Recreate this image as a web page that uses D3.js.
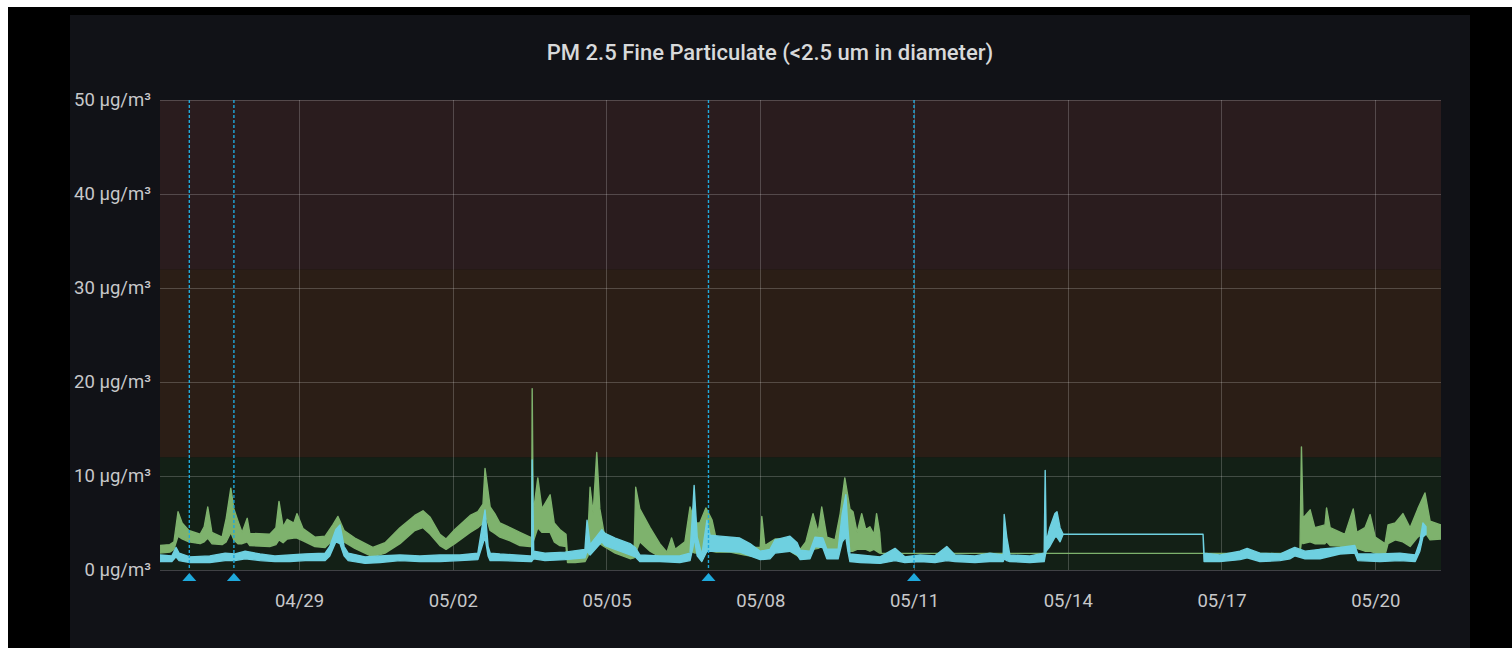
<!DOCTYPE html>
<html><head><meta charset="utf-8">
<script src="https://cdn.jsdelivr.net/npm/d3@7"></script>
<style>
html,body{margin:0;padding:0;background:#ffffff;width:1512px;height:648px;overflow:hidden}
svg{display:block}
</style></head><body>
<svg id="c" width="1512" height="648"></svg>
<script>
// ---------- data ----------
const chartTitle = "PM 2.5 Fine Particulate (<2.5 um in diameter)";
const startUTC = Date.UTC(2021, 3, 26);            // day 0 = 04/26 00:00
const domainDays = [0.288, 25.283];                 // visible time range (days from start)
const yDomain = [0, 50];
const yTickValues = [0, 10, 20, 30, 40, 50];
const yUnit = " µg/m³";
const xTickDays = [3, 6, 9, 12, 15, 18, 21, 24];    // 04/29 ... 05/20
const thresholdBreaks = [0, 12, 32, 50];            // good / moderate / unhealthy
const annotationDays = [0.86, 1.73, 10.99, 15.0];

// [day, low, high] – min/max envelope of the noisy readings
const seriesGreen = [
 [0.29,1.8,2.6],[0.48,1.9,2.7],[0.56,2.2,3.0],[0.64,3.6,6.2],[0.72,3.3,5.0],[0.85,3.0,4.2],
 [1.07,2.8,3.8],[1.15,3.0,4.6],[1.22,3.4,6.7],[1.30,2.8,4.0],[1.50,2.7,3.5],[1.58,3.0,5.5],
 [1.67,4.0,8.7],[1.73,3.2,6.5],[1.81,2.8,5.2],[1.89,2.8,4.0],[1.99,3.0,5.5],[2.04,2.6,3.9],
 [2.43,2.5,3.8],[2.55,2.7,4.5],[2.61,3.2,7.3],[2.69,2.9,4.6],[2.77,3.3,5.4],[2.90,3.4,5.0],
 [2.96,3.4,6.0],[3.08,3.1,4.4],[3.31,2.5,3.5],[3.51,2.4,3.6],[3.66,3.2,4.8],[3.76,4.5,5.7],
 [3.88,3.0,4.2],[4.09,2.3,3.4],[4.44,1.4,2.4],[4.68,1.8,2.9],[4.97,2.8,4.5],[5.26,4.2,5.8],
 [5.42,4.5,6.3],[5.56,3.8,5.6],[5.75,2.6,3.8],[5.87,2.2,3.3],[6.04,2.8,4.3],[6.34,4.0,5.8],
 [6.49,4.5,6.2],[6.59,5.0,7.0],[6.63,6.0,10.8],[6.73,4.2,6.7],[6.82,3.9,6.0],[6.92,3.5,5.0],
 [7.12,3.1,4.5],[7.31,2.6,4.0],[7.51,2.5,3.5],[7.54,2.5,3.5],[7.55,2.5,19.3],[7.57,3.0,6.0],
 [7.66,4.5,9.8],[7.74,4.0,6.5],[7.90,4.0,8.0],[7.98,3.0,5.0],[8.09,2.6,4.3],[8.21,2.5,3.8],
 [8.24,0.8,1.5],[8.39,0.8,1.6],[8.58,0.9,1.8],[8.64,1.5,4.0],[8.68,2.5,8.8],[8.74,2.5,6.0],
 [8.81,3.0,12.5],[8.87,2.8,6.5],[8.95,2.5,4.0],[9.17,1.8,3.0],[9.46,1.2,2.0],[9.54,1.3,2.0],
 [9.57,1.8,8.8],[9.65,3.0,6.5],[9.85,2.0,4.5],[10.04,1.4,2.8],[10.18,1.2,1.9],[10.27,1.3,3.4],
 [10.34,1.3,2.2],[10.53,1.5,3.0],[10.63,2.0,6.7],[10.73,1.8,5.0],[10.82,2.0,5.0],[10.94,2.2,6.6],
 [11.06,2.0,5.3],[11.14,1.9,3.3],[11.41,1.9,3.1],[11.70,1.6,2.8],[11.90,1.4,2.4],[12.00,1.3,2.4],
 [12.03,1.5,5.7],[12.09,1.5,2.6],[12.29,2.0,3.3],[12.58,2.0,3.3],[12.78,1.3,2.2],[12.89,1.8,3.0],
 [13.03,2.2,6.0],[13.13,2.3,4.0],[13.20,2.5,6.7],[13.30,2.0,3.5],[13.46,1.8,3.2],[13.56,2.5,6.0],
 [13.65,4.0,9.8],[13.75,2.0,6.5],[13.81,2.0,6.2],[13.89,2.2,4.0],[13.98,2.2,6.0],[14.06,2.2,4.3],
 [14.14,2.0,4.6],[14.22,2.2,3.8],[14.27,2.0,6.0],[14.33,1.8,4.0],[14.36,1.77,1.77],
 [22.53,1.77,1.77],[22.56,3.0,13.1],[22.59,2.8,5.5],[22.73,3.0,6.4],[22.82,2.8,4.5],
 [23.02,2.8,4.8],[23.05,3.0,6.6],[23.12,2.6,4.5],[23.41,2.5,3.8],[23.57,2.5,6.5],[23.64,2.3,4.0],
 [23.80,2.0,4.5],[23.90,2.0,5.9],[24.00,1.8,3.5],[24.19,1.6,2.8],[24.25,2.8,4.8],[24.39,3.2,5.0],
 [24.54,3.0,6.0],[24.68,2.5,4.5],[24.83,3.5,6.5],[24.97,4.0,8.2],[25.07,3.2,5.2],[25.28,3.3,4.8]
];
const seriesCyan = [
 [0.29,0.9,1.6],[0.52,0.9,1.5],[0.60,1.4,2.4],[0.66,1.0,1.8],[0.87,0.8,1.4],[1.26,0.8,1.5],
 [1.56,1.0,1.8],[1.75,1.0,1.7],[1.95,1.2,2.0],[2.24,1.0,1.7],[2.53,0.9,1.5],[2.82,0.9,1.6],
 [3.12,1.0,1.7],[3.51,1.0,1.8],[3.60,1.5,2.5],[3.72,3.0,4.3],[3.80,2.8,4.8],[3.88,1.5,2.5],
 [3.96,1.0,1.8],[4.29,0.7,1.4],[4.58,0.8,1.5],[4.97,1.0,1.6],[5.36,0.9,1.5],[5.75,0.9,1.6],
 [6.14,1.0,1.6],[6.49,1.1,1.8],[6.57,2.5,4.5],[6.63,3.5,6.4],[6.69,1.5,2.5],[6.73,1.0,1.8],
 [6.92,1.0,1.7],[7.51,0.9,1.5],[7.54,0.9,1.5],[7.55,1.0,11.7],[7.58,1.2,2.0],[7.80,1.0,1.8],
 [8.19,1.1,1.9],[8.58,1.3,2.2],[8.62,2.0,5.3],[8.68,1.6,2.7],[8.91,3.0,4.3],[8.97,2.6,3.9],
 [9.17,2.2,3.4],[9.46,1.6,2.8],[9.56,1.4,2.4],[9.65,0.9,1.6],[10.04,0.9,1.5],[10.43,0.8,1.5],
 [10.63,1.0,1.8],[10.69,2.5,7.0],[10.71,3.5,9.0],[10.77,1.5,3.5],[10.86,0.9,1.6],[10.96,2.0,5.3],
 [11.02,2.0,3.7],[11.21,2.0,3.6],[11.60,1.9,3.4],[11.80,1.5,2.8],[12.00,1.1,2.0],[12.19,1.2,2.2],
 [12.29,1.8,3.2],[12.58,2.0,3.6],[12.72,1.6,2.9],[12.78,1.1,2.1],[12.97,1.2,2.0],[13.07,2.5,3.5],
 [13.22,2.4,3.4],[13.30,1.2,2.2],[13.52,1.2,2.2],[13.60,3.0,6.0],[13.67,3.5,8.0],[13.71,2.0,4.5],
 [13.75,0.9,1.7],[13.95,0.8,1.6],[14.34,0.7,1.4],[14.63,1.0,2.3],[14.82,0.8,1.4],[15.12,0.9,1.6],
 [15.41,0.8,1.5],[15.64,1.0,2.5],[15.80,0.9,1.6],[16.19,0.8,1.5],[16.48,0.9,1.8],[16.74,0.9,1.6],
 [16.76,1.2,5.9],[16.81,1.0,3.5],[16.87,0.9,1.6],[17.26,0.8,1.5],[17.54,0.9,1.8],[17.56,1.5,10.6],
 [17.58,2.0,3.0],[17.65,2.5,4.5],[17.75,3.5,6.0],[17.79,3.5,6.2],[17.85,3.0,4.5],[17.91,3.8,3.8],
 [20.64,3.8,3.8],[20.66,0.9,1.8],[20.97,0.9,1.6],[21.36,1.1,2.0],[21.50,1.3,2.3],[21.75,0.9,1.8],
 [22.14,1.0,1.7],[22.34,1.2,2.2],[22.43,1.5,2.4],[22.63,1.2,2.0],[22.92,1.2,2.2],[23.31,1.7,2.4],
 [23.60,1.8,2.6],[23.66,1.0,1.7],[24.09,0.9,1.7],[24.48,1.0,1.8],[24.78,0.9,1.6],[24.87,2.0,3.0],
 [24.93,3.5,5.0],[24.99,3.8,4.6]
];

// ---------- drawing ----------
const toDate = d => new Date(startUTC + d * 864e5);
const svg = d3.select("#c");
const W = 1512, H = 648;
const plot = {left:160, right:1441, top:100, bottom:570};

// frame & panel
svg.append("rect").attr("x",8).attr("y",7).attr("width",W-8).attr("height",H-7).attr("fill","#000");
svg.append("rect").attr("x",70).attr("y",15).attr("width",1400).attr("height",H-15).attr("fill","#111217");

const x = d3.scaleUtc().domain(domainDays.map(toDate)).range([plot.left, plot.right]);
const y = d3.scaleLinear().domain(yDomain).range([plot.bottom, plot.top]);

// threshold bands
const bandColors = ["#132016", "#2b1e16", "#2a1c1e"];
svg.append("g").selectAll("rect").data(d3.pairs(thresholdBreaks)).join("rect")
  .attr("x", plot.left).attr("width", plot.right - plot.left)
  .attr("y", d => y(d[1])).attr("height", d => y(d[0]) - y(d[1]))
  .attr("fill", (d,i) => bandColors[i]);

// grid
const grid = svg.append("g").attr("stroke","rgba(255,255,255,0.2)").attr("stroke-width",1);
grid.selectAll("line.h").data(yTickValues).join("line").attr("class","h")
  .attr("x1",plot.left).attr("x2",plot.right)
  .attr("y1",d=>Math.round(y(d))+0.5).attr("y2",d=>Math.round(y(d))+0.5);
grid.selectAll("line.v").data(xTickDays).join("line").attr("class","v")
  .attr("y1",plot.top).attr("y2",plot.bottom)
  .attr("x1",d=>Math.round(x(toDate(d)))+0.5).attr("x2",d=>Math.round(x(toDate(d)))+0.5);

// series
svg.append("defs").append("clipPath").attr("id","clip").append("rect")
  .attr("x",plot.left).attr("y",plot.top).attr("width",plot.right-plot.left).attr("height",plot.bottom-plot.top);
const area = d3.area().x(d => x(toDate(d[0]))).y0(d => y(d[1])).y1(d => y(d[2]));
const g = svg.append("g").attr("clip-path","url(#clip)");
[[seriesGreen,"#7eb26d"],[seriesCyan,"#6ed0e0"]].forEach(([s,c]) => {
  g.append("path").datum(s).attr("d", area)
   .attr("fill", c).attr("stroke", c).attr("stroke-width", 1.4).attr("stroke-linejoin","round");
});

// annotations
const annColor = "#1fa9dc";
const ann = svg.append("g");
ann.selectAll("line").data(annotationDays).join("line")
  .attr("x1",d=>x(toDate(d))).attr("x2",d=>x(toDate(d)))
  .attr("y1",plot.top).attr("y2",plot.bottom)
  .attr("stroke",annColor).attr("stroke-width",1.4).attr("stroke-dasharray","3,2");
ann.selectAll("path").data(annotationDays).join("path")
  .attr("d", d => { const cx = x(toDate(d)); return `M${cx-7},581L${cx},573L${cx+7},581Z`; })
  .attr("fill", annColor);

// axes
const font = "Roboto, 'Noto Sans', sans-serif";
const yAxis = svg.append("g").attr("transform",`translate(${plot.left},0)`)
  .call(d3.axisLeft(y).tickValues(yTickValues).tickFormat(d => d + yUnit).tickSize(0).tickPadding(9));
const xAxis = svg.append("g").attr("transform",`translate(0,${plot.bottom})`)
  .call(d3.axisBottom(x).tickValues(xTickDays.map(toDate)).tickFormat(d3.utcFormat("%m/%d")).tickSize(0).tickPadding(24));
[yAxis, xAxis].forEach(a => {
  a.select(".domain").remove();
  a.selectAll("text").attr("fill","#c7c8ca").style("font-family",font).style("font-size","18.5px");
});

// title
svg.append("text").attr("x",770).attr("y",52).attr("text-anchor","middle").attr("dominant-baseline","central")
  .attr("fill","#d8d9da").style("font-family",font).style("font-size","22px").style("font-weight","500")
  .text(chartTitle);
</script>
</body></html>
